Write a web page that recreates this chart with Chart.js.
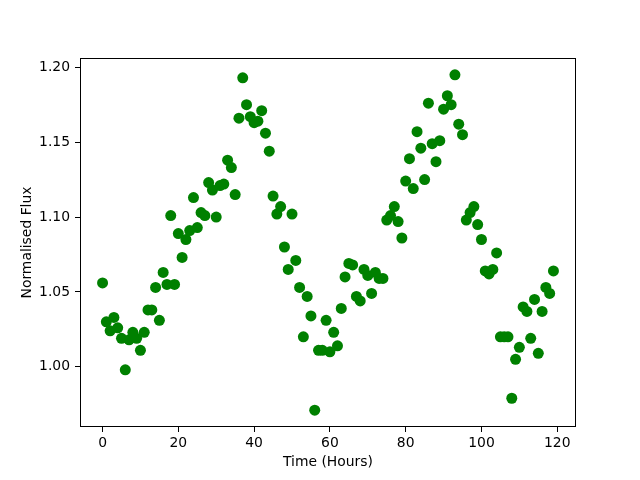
<!DOCTYPE html>
<html>
<head>
<meta charset="utf-8">
<script src="https://cdn.jsdelivr.net/npm/chart.js@4"></script>
<style>
  html, body { margin: 0; padding: 0; background: #fff; }
  canvas { display: block; }
</style>
</head>
<body>
<canvas id="myChart" width="640" height="480"></canvas>
<script>
'use strict';
// hours 0..119, one reading per hour
var hours = [];
for (var i = 0; i < 120; i++) hours.push(i);

var flux = [
    1.056, 1.030, 1.024, 1.033, 1.026, 1.019, 0.998, 1.018, 1.023, 1.019,
    1.011, 1.023, 1.038, 1.038, 1.053, 1.031, 1.063, 1.055, 1.101, 1.055,
    1.089, 1.073, 1.085, 1.091, 1.113, 1.093, 1.103, 1.101, 1.123, 1.118,
    1.100, 1.121, 1.122, 1.138, 1.133, 1.115, 1.166, 1.193, 1.175, 1.167,
    1.163, 1.164, 1.171, 1.156, 1.144, 1.114, 1.102, 1.107, 1.080, 1.065,
    1.102, 1.071, 1.053, 1.020, 1.047, 1.034, 0.971, 1.011, 1.011, 1.031,
    1.010, 1.023, 1.014, 1.039, 1.060, 1.069, 1.068, 1.047, 1.044, 1.065,
    1.061, 1.049, 1.063, 1.059, 1.059, 1.098, 1.101, 1.107, 1.097, 1.086,
    1.124, 1.139, 1.119, 1.157, 1.146, 1.125, 1.176, 1.149, 1.137, 1.151,
    1.172, 1.181, 1.175, 1.195, 1.162, 1.155, 1.098, 1.103, 1.107, 1.095,
    1.085, 1.064, 1.062, 1.065, 1.076, 1.020, 1.020, 1.020, 0.979, 1.005,
    1.013, 1.040, 1.037, 1.019, 1.045, 1.009, 1.037, 1.053, 1.049, 1.064
];

var xTicks = [0, 20, 40, 60, 80, 100, 120];
var yTicks = [1.00, 1.05, 1.10, 1.15, 1.20];

var points = hours.map(function (h, k) { return { x: h, y: flux[k] }; });

var frame = {
    id: 'frame',
    afterDatasetsDraw: function (chart) {
        var a = chart.chartArea;
        var c = chart.ctx;
        c.save();
        c.strokeStyle = '#000';
        c.lineWidth = 1;
        c.strokeRect(Math.round(a.left) + 0.5, Math.round(a.top) + 0.5,
            Math.round(a.right - a.left) - 1, Math.round(a.bottom - a.top) - 1);
        c.restore();
    }
};

var font = { family: 'DejaVu Sans', size: 13.9 };

var ctx = document.getElementById('myChart').getContext('2d');
var myChart = new Chart(ctx, {
    type: 'scatter',
    data: {
        datasets: [{
            data: points,
            backgroundColor: '#008000',
            borderColor: '#008000',
            pointRadius: 5.5,
            pointHoverRadius: 5.5,
            borderWidth: 0
        }]
    },
    options: {
        responsive: false,
        animation: false,
        layout: { padding: { left: 0, right: 64, top: 58, bottom: 0 } },
        plugins: { legend: { display: false }, tooltip: { enabled: false } },
        scales: {
            x: {
                min: -5.95,
                max: 124.95,
                afterBuildTicks: function (s) { s.ticks = xTicks.map(function (v) { return { value: v }; }); },
                afterFit: function (s) { s.height = 53; },
                ticks: { color: '#000', font: font, padding: 3, maxRotation: 0,
                    callback: function (v) { return String(v); } },
                grid: { display: true, drawOnChartArea: false, drawTicks: true, tickLength: 5, color: '#000' },
                border: { display: false },
                title: { display: true, text: 'Time (Hours)', color: '#000', font: font, padding: { top: 0, bottom: 9 } }
            },
            y: {
                min: 0.9598,
                max: 1.2062,
                afterBuildTicks: function (s) { s.ticks = yTicks.map(function (v) { return { value: v }; }); },
                afterFit: function (s) { s.width = 80; },
                ticks: { color: '#000', font: font, padding: 5,
                    callback: function (v) { return Number(v).toFixed(2); } },
                grid: { display: true, drawOnChartArea: false, drawTicks: true, tickLength: 5, color: '#000' },
                border: { display: false },
                title: { display: true, text: 'Normalised Flux', color: '#000', font: font, padding: { top: 19, bottom: 0 } }
            }
        }
    },
    plugins: [frame]
});
</script>
</body>
</html>
